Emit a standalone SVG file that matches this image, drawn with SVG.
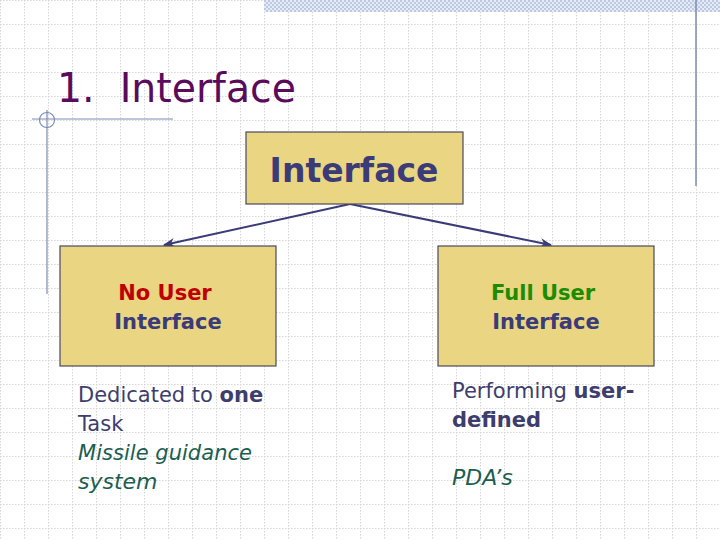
<svg xmlns="http://www.w3.org/2000/svg" width="720" height="540" viewBox="0 0 720 540">
<defs>
<pattern id="grid" width="24" height="24" patternUnits="userSpaceOnUse">
<path d="M0 0.5H24M0.5 0V24" stroke="#d6d6d6" stroke-width="1" stroke-dasharray="1.5 1.5" fill="none"/>
</pattern>
<pattern id="check" width="4" height="4" patternUnits="userSpaceOnUse">
<rect width="4" height="4" fill="#e6ecf6"/>
<rect width="2" height="2" fill="#bcc9e2"/>
<rect x="2" y="2" width="2" height="2" fill="#bcc9e2"/>
</pattern>
<marker id="ah" viewBox="0 0 10 10" refX="9" refY="5" markerWidth="6" markerHeight="6" orient="auto" markerUnits="strokeWidth">
<path d="M0 1L10 5L0 9L3 5Z" fill="#3b3b78"/>
</marker>
</defs>
<style>
.box{fill:#e9d582;stroke:#4a4a5c;stroke-width:1.2}
.h{font-family:"DejaVu Sans",Verdana,sans-serif;font-weight:bold;text-anchor:middle}
.b{font-family:"DejaVu Sans",Verdana,sans-serif;font-size:21px;fill:#3d3d6e}
.i{font-family:"DejaVu Sans",Verdana,sans-serif;font-size:22px;font-style:italic;fill:#1b5e50}
</style>
<rect width="720" height="540" fill="#ffffff"/>
<rect width="720" height="540" fill="url(#grid)"/>
<rect x="264" y="0" width="456" height="12" fill="url(#check)"/>
<line x1="696" y1="0" x2="696" y2="186" stroke="#7d8bb5" stroke-width="1.5"/>
<line x1="47" y1="110" x2="47" y2="294" stroke="#7d8bb5" stroke-width="1.2"/>
<line x1="32" y1="119" x2="173" y2="119" stroke="#7d8bb5" stroke-width="1.2"/>
<circle cx="47" cy="120" r="7.5" fill="none" stroke="#7d8bb5" stroke-width="1.2"/>
<text x="57" y="102" font-family="DejaVu Sans,Verdana,sans-serif" font-size="40" fill="#5a0b5c" textLength="239" lengthAdjust="spacingAndGlyphs" xml:space="preserve">1.  Interface</text>
<g id="connectors" stroke="#3b3b78" stroke-width="2" fill="none">
<line x1="350" y1="204" x2="164" y2="245" marker-end="url(#ah)"/>
<line x1="350" y1="204" x2="551" y2="245" marker-end="url(#ah)"/>
</g>
<g id="node-interface">
<rect class="box" x="246" y="132" width="217" height="72"/>
<text class="h" x="354" y="182" font-size="33" fill="#3b3b78">Interface</text>
</g>
<g id="node-no-user">
<rect class="box" x="60" y="246" width="216" height="120"/>
<text class="h" x="165" y="300" font-size="21" fill="#c00000">No User</text>
<text class="h" x="168" y="329" font-size="21" fill="#3b3b78">Interface</text>
</g>
<g id="node-full-user">
<rect class="box" x="438" y="246" width="216" height="120"/>
<text class="h" x="543" y="300" font-size="21" fill="#1c8c00">Full User</text>
<text class="h" x="546" y="329" font-size="21" fill="#3b3b78">Interface</text>
</g>
<g id="text-left">
<text class="b" x="78" y="402">Dedicated to <tspan font-weight="bold">one</tspan></text>
<text class="b" x="78" y="431">Task</text>
<text class="i" x="78" y="460" textLength="174" lengthAdjust="spacingAndGlyphs">Missile guidance</text>
<text class="i" x="78" y="489">system</text>
</g>
<g id="text-right">
<text class="b" x="452" y="398">Performing <tspan font-weight="bold">user-</tspan></text>
<text class="b" x="452" y="427" font-weight="bold">defined</text>
<text class="i" x="452" y="485">PDA’s</text>
</g>
</svg>
